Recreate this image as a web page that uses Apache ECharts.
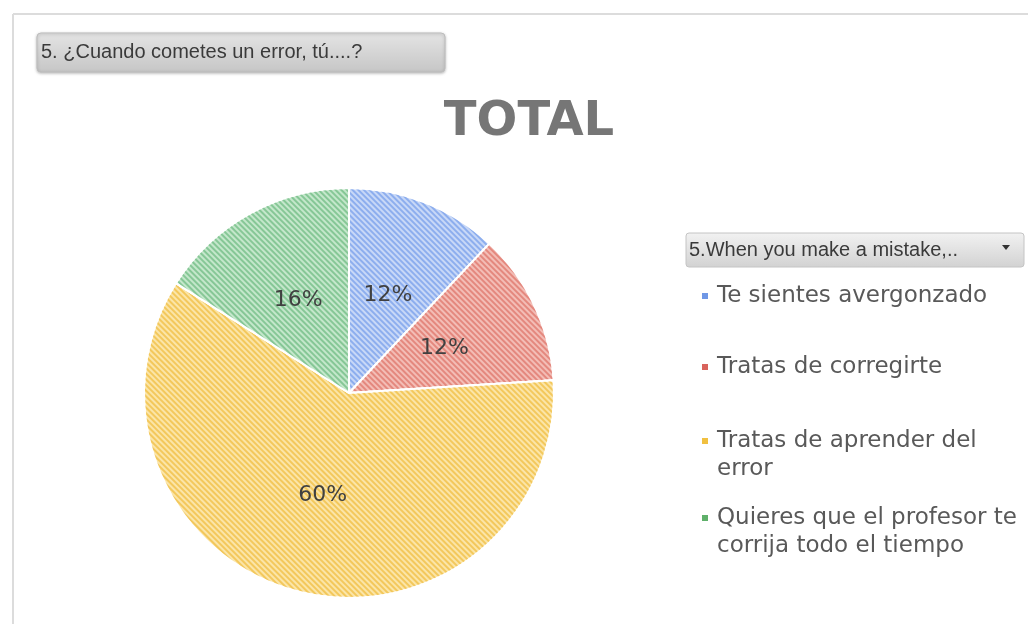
<!DOCTYPE html>
<html>
<head>
<meta charset="utf-8">
<title>TOTAL</title>
<script src="https://cdn.jsdelivr.net/npm/echarts@6/dist/echarts.min.js"></script>
<style>
  html, body { margin: 0; padding: 0; background: #fff; }
  #main { width: 1028px; height: 624px; }
</style>
</head>
<body>
<div id="main"></div>
<script>
// answers and counts (25 responses -> 12%, 12%, 60%, 16%)
var categories = ['Te sientes avergonzado', 'Tratas de corregirte', 'Tratas de aprender del error', 'Quieres que el profesor te corrija todo el tiempo'];
var wrapped = ['Te sientes avergonzado', 'Tratas de corregirte', 'Tratas de aprender del\nerror', 'Quieres que el profesor te\ncorrija todo el tiempo'];
var counts = [3, 3, 15, 4];
var baseColors = ['#c8d8f7', '#f3bdb6', '#fbe5a8', '#c4e7cb'];
var stripeColors = ['#8daeee', '#e4887e', '#f3c85c', '#86c796'];
var markerColors = ['#6f97e6', '#d9635c', '#f1c040', '#5fb06a'];
var legendTops = [277, 348, 422, 499];

var myChart = echarts.init(document.getElementById('main'));

var pieData = [];
for (var i = 0; i < categories.length; i++) {
    pieData.push({
        name: categories[i],
        value: counts[i],
        itemStyle: {
            color: baseColors[i],
            decal: {
                symbol: 'rect',
                symbolSize: 1,
                dashArrayX: [1, 0],
                dashArrayY: [2, 2],
                rotation: Math.PI / 4,
                color: stripeColors[i]
            }
        }
    });
}

// one legend per entry so each row sits where Excel put it
var legends = [];
for (var j = 0; j < categories.length; j++) {
    var twoLines = wrapped[j].indexOf('\n') >= 0;
    legends.push({
        left: 697,
        top: legendTops[j],
        orient: 'vertical',
        selectedMode: false,
        itemWidth: 10,
        itemHeight: twoLines ? 34 : 6,
        icon: twoLines ? 'path://M0,0H6V6H0Z M9.99,33.99H10V34H9.99Z'
                       : 'path://M0,0H6V6H0Z M9.99,5.99H10V6H9.99Z',
        itemStyle: { borderWidth: 0 },
        data: [{ name: categories[j], itemStyle: { color: markerColors[j], decal: 'none', borderWidth: 0 } }],
        formatter: function (name) {
            return wrapped[categories.indexOf(name)];
        },
        textStyle: {
            fontFamily: 'DejaVu Sans',
            fontSize: 23,
            lineHeight: 28,
            color: '#595959'
        }
    });
}

var option = {
    backgroundColor: '#ffffff',
    animation: false,
    title: {
        text: 'TOTAL',
        left: 524,
        top: 94,
        textAlign: 'center',
        textStyle: {
            fontFamily: 'DejaVu Sans',
            fontSize: 48,
            fontWeight: 'bold',
            color: '#767676'
        }
    },
    legend: legends,
    graphic: [
        // frame of the pivot chart
        { type: 'line', shape: { x1: 13, y1: 14, x2: 1028, y2: 14 }, style: { stroke: '#dcdcdc', lineWidth: 2 } },
        { type: 'line', shape: { x1: 13, y1: 14, x2: 13, y2: 624 }, style: { stroke: '#dcdcdc', lineWidth: 2 } },
        // field button top left
        {
            type: 'rect',
            shape: { x: 37, y: 33, width: 408, height: 39, r: 4 },
            style: {
                fill: new echarts.graphic.LinearGradient(0, 0, 0, 1, [
                    { offset: 0, color: '#e4e4e4' },
                    { offset: 1, color: '#c6c6c6' }
                ]),
                stroke: '#bdbdbd',
                lineWidth: 1,
                shadowColor: 'rgba(0,0,0,0.25)',
                shadowBlur: 3,
                shadowOffsetY: 1
            }
        },
        {
            type: 'text',
            left: 41,
            top: 42,
            style: {
                text: '5. ¿Cuando cometes un error, tú....?',
                font: '20px "Liberation Sans"',
                fill: '#3a3a3a'
            }
        },
        // legend field button
        {
            type: 'rect',
            shape: { x: 686, y: 233, width: 338, height: 34, r: 3 },
            style: {
                fill: new echarts.graphic.LinearGradient(0, 0, 0, 1, [
                    { offset: 0, color: '#f2f2f2' },
                    { offset: 1, color: '#d2d2d2' }
                ]),
                stroke: '#c4c4c4',
                lineWidth: 1
            }
        },
        {
            type: 'text',
            left: 689,
            top: 240,
            style: {
                text: '5.When you make a mistake,..',
                font: '20px "Liberation Sans"',
                fill: '#3a3a3a'
            }
        },
        {
            type: 'polygon',
            shape: { points: [[1002, 245], [1010, 245], [1006, 250]] },
            style: { fill: '#333' }
        }
    ],
    series: [
        {
            name: 'TOTAL',
            type: 'pie',
            center: [349, 393],
            radius: 205,
            startAngle: 90,
            clockwise: true,
            silent: true,
            percentPrecision: 0,
            itemStyle: {
                borderColor: '#ffffff',
                borderWidth: 2
            },
            label: {
                position: 'inside',
                formatter: '{d}%',
                fontFamily: 'DejaVu Sans',
                fontSize: 22,
                color: '#404040'
            },
            labelLine: { show: false },
            data: pieData
        }
    ]
};

myChart.setOption(option);
</script>
</body>
</html>
